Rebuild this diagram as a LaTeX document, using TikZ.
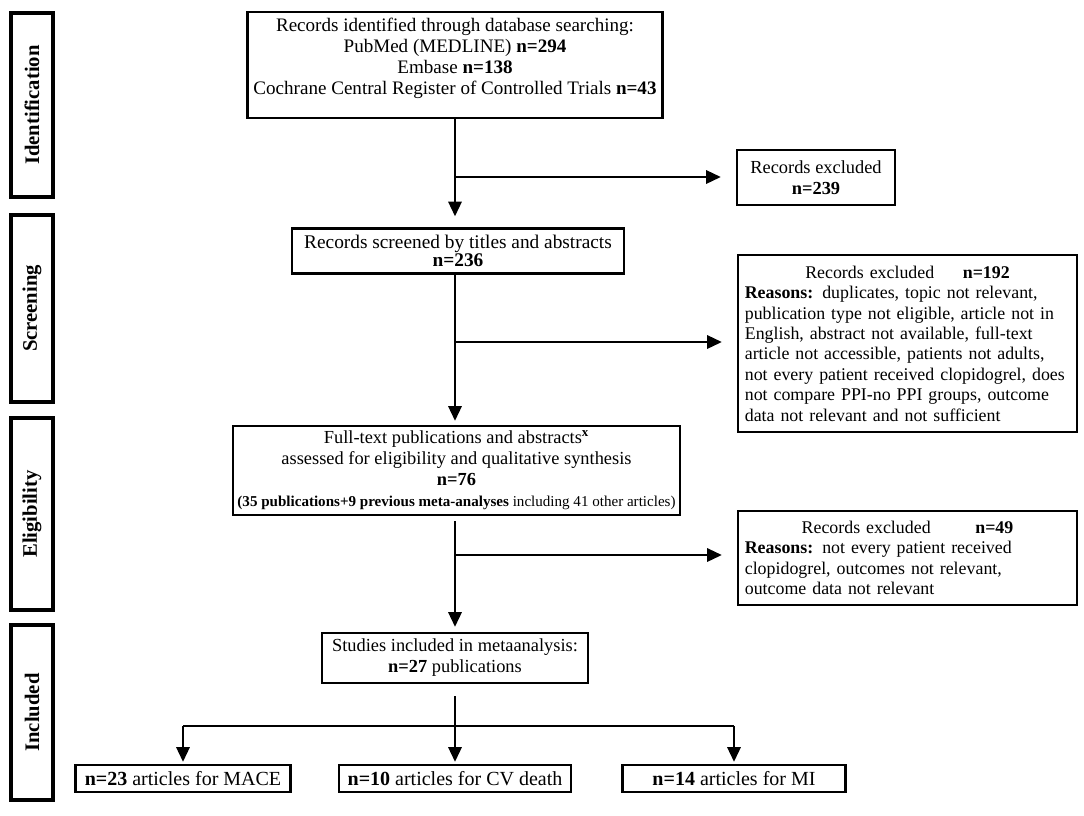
\documentclass[tikz,border=0pt]{standalone}
\usepackage{fontspec}
\setmainfont{Liberation Serif}
\usetikzlibrary{arrows.meta,calc}
\begin{document}
\begin{tikzpicture}[x=0.75pt,y=-0.75pt,
  box/.style={draw, line width=1.8pt, inner sep=0pt, align=center, font=\fontsize{13.8}{15.75}\selectfont},
  stage/.style={draw, line width=2.6pt, inner sep=0pt, rotate=90, font=\fontsize{15.5}{17}\selectfont\bfseries},
  conn/.style={line width=1.6pt},
  arr/.style={conn, -{Triangle[length=11pt,width=10pt]}}]
\useasboundingbox[fill=white] (0,0) rectangle (1084,815);

% stage labels
\node[stage, minimum width=184*0.75pt, minimum height=42*0.75pt] (sI) at (32,105) {Identification};
\node[stage, minimum width=187*0.75pt, minimum height=42*0.75pt] (sS) at (32,308.5) {Screening};
\node[stage, minimum width=192*0.75pt, minimum height=42*0.75pt] (sE) at (32,514) {Eligibility};
\node[stage, minimum width=175*0.75pt, minimum height=42*0.75pt] (sN) at (32,712.5) {Included};

% main boxes
\node[box, font=\fontsize{14.3}{15.75}\selectfont, text depth=13pt, minimum width=415*0.75pt, minimum height=106*0.75pt] (id) at (455,65)
  {Records identified through database searching:\\
   PubMed (MEDLINE) \textbf{n=294}\\
   Embase \textbf{n=138}\\
   Cochrane Central Register of Controlled Trials \textbf{n=43}};
\node[box, minimum width=158*0.75pt, minimum height=55*0.75pt] (ex1) at (816,177.5)
  {Records excluded\\ \textbf{n=239}};
\node[box, font=\fontsize{14.5}{14}\selectfont, minimum width=332*0.75pt, minimum height=45*0.75pt] (scr) at (458,251)
  {Records screened by titles and abstracts\\ \textbf{n=236}};
\node[box, font=\fontsize{13.4}{15.3}\selectfont, align=left, text width=244pt, minimum width=339*0.75pt, minimum height=177*0.75pt] (ex2) at (907.5,343.5)
  {\makebox[244pt]{Records excluded\hspace{1.6em}\textbf{n=192}}\\
   \textbf{Reasons:} duplicates, topic not relevant,\\
   publication type not eligible, article not in\\
   English, abstract not available, full-text\\
   article not accessible, patients not adults,\\
   not every patient received clopidogrel, does\\
   not compare PPI-no PPI groups, outcome\\
   data not relevant and not sufficient};
\node[box, minimum width=447*0.75pt, minimum height=89*0.75pt] (full) at (456.5,470.5)
  {Full-text publications and abstracts\textsuperscript{\textbf{x}}\\
   assessed for eligibility and qualitative synthesis\\
   \textbf{n=76}\\
   {\fontsize{11.3}{13}\selectfont\textbf{(35 publications+9 previous meta-analyses} including 41 other articles)}};
\node[box, font=\fontsize{13.4}{15.3}\selectfont, align=left, text width=244pt, minimum width=339*0.75pt, minimum height=94*0.75pt] (ex3) at (907.5,558)
  {\makebox[244pt]{Records excluded\hspace{2.5em}\textbf{n=49}}\\
   \textbf{Reasons:} not every patient received\\
   clopidogrel, outcomes not relevant,\\
   outcome data not relevant};
\node[box, minimum width=266*0.75pt, minimum height=50*0.75pt] (incl) at (455,658)
  {Studies included in metaanalysis:\\ \textbf{n=27} publications};

% bottom boxes
\node[box, font=\fontsize{15}{16}\selectfont, minimum width=215*0.75pt, minimum height=27*0.75pt] (n1) at (183,778.5) {\textbf{n=23} articles for MACE};
\node[box, font=\fontsize{15}{16}\selectfont, minimum width=232*0.75pt, minimum height=27*0.75pt] (n2) at (455,778.5) {\textbf{n=10} articles for CV death};
\node[box, font=\fontsize{15}{16}\selectfont, minimum width=223*0.75pt, minimum height=27*0.75pt] (n3) at (734,778.5) {\textbf{n=14} articles for MI};

% connectors
\coordinate (b1) at (455,177);
\coordinate (b2) at (455,342);
\coordinate (b3) at (455,555);
\coordinate (sp) at (455,726);
\coordinate (spL) at (183,726);
\coordinate (spR) at (734,726);

\draw[arr, shorten >=8.25pt] (id.south) -- (id.south |- scr.north);
\draw[arr, shorten >=11.25pt] (b1) -- (b1 -| ex1.west);
\draw[arr, shorten >=3pt] (scr.south -| id.south) -- (id.south |- full.north);
\draw[arr, shorten >=11.25pt] (b2) -- (b2 -| ex2.west);
\draw[arr, shorten <=3.75pt, shorten >=3.75pt] (full.south -| incl.north) -- (incl.north);
\draw[arr, shorten >=11.25pt] (b3) -- (b3 -| ex3.west);
\draw[conn, shorten <=9pt] (incl.south) -- (sp);
\draw[conn] (spL) -- (spR);
\draw[arr, shorten >=1.5pt] (spL) -- (n1.north);
\draw[arr, shorten >=1.5pt] (sp) -- (n2.north);
\draw[arr, shorten >=1.5pt] (spR) -- (n3.north);
\end{tikzpicture}
\end{document}
